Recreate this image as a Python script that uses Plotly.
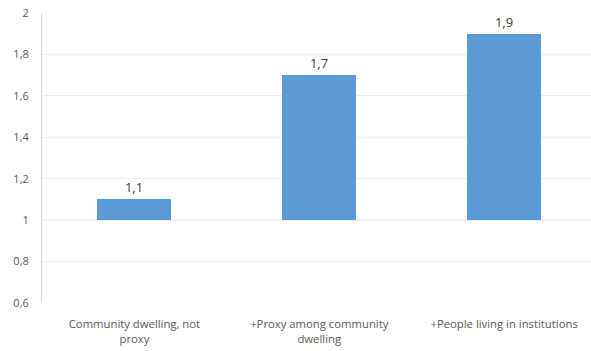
import plotly.graph_objects as go

# Chart data
categories = [
    "Community dwelling, not<br>proxy",
    "+Proxy among community<br>dwelling",
    "+People living in institutions",
]
values = [1.1, 1.7, 1.9]
value_labels = ["1,1", "1,7", "1,9"]
baseline = 1.0
y_ticks = [0.6, 0.8, 1.0, 1.2, 1.4, 1.6, 1.8, 2.0]

FONT = "Open Sans, DejaVu Sans, sans-serif"

fig = go.Figure(
    go.Bar(
        x=categories,
        y=[v - baseline for v in values],
        base=baseline,
        width=0.4,
        marker=dict(color="#5b9bd5", line=dict(width=0)),
        text=value_labels,
        textposition="outside",
        textfont=dict(family=FONT, size=13, color="#404040"),
        cliponaxis=False,
        hoverinfo="skip",
    )
)

# Category axis crosses the value axis at the baseline
fig.add_shape(
    type="line", xref="paper", yref="y",
    x0=0, x1=1, y0=baseline, y1=baseline,
    line=dict(color="#d4d4d4", width=1), layer="below",
)

fig.update_layout(
    width=591, height=351,
    margin=dict(l=42, r=0, t=13, b=48),
    paper_bgcolor="white", plot_bgcolor="white",
    separators=",.",
    showlegend=False,
    font=dict(family=FONT, size=11, color="#595959"),
    bargap=0,
)
fig.update_xaxes(
    range=[-0.5, 2.47],
    showgrid=False, showline=False, zeroline=False,
    ticks="", ticklabelstandoff=13,
    tickfont=dict(family=FONT, size=11.3, color="#595959"),
)
fig.update_yaxes(
    range=[0.6, 2.0],
    tickvals=y_ticks,
    showgrid=True, gridcolor="#eeeeee", gridwidth=1,
    showline=True, linecolor="#d9d9d9", linewidth=1,
    zeroline=False, ticks="", ticklabelstandoff=10,
    tickfont=dict(family=FONT, size=11, color="#595959"),
)

fig.write_html("out.html")
